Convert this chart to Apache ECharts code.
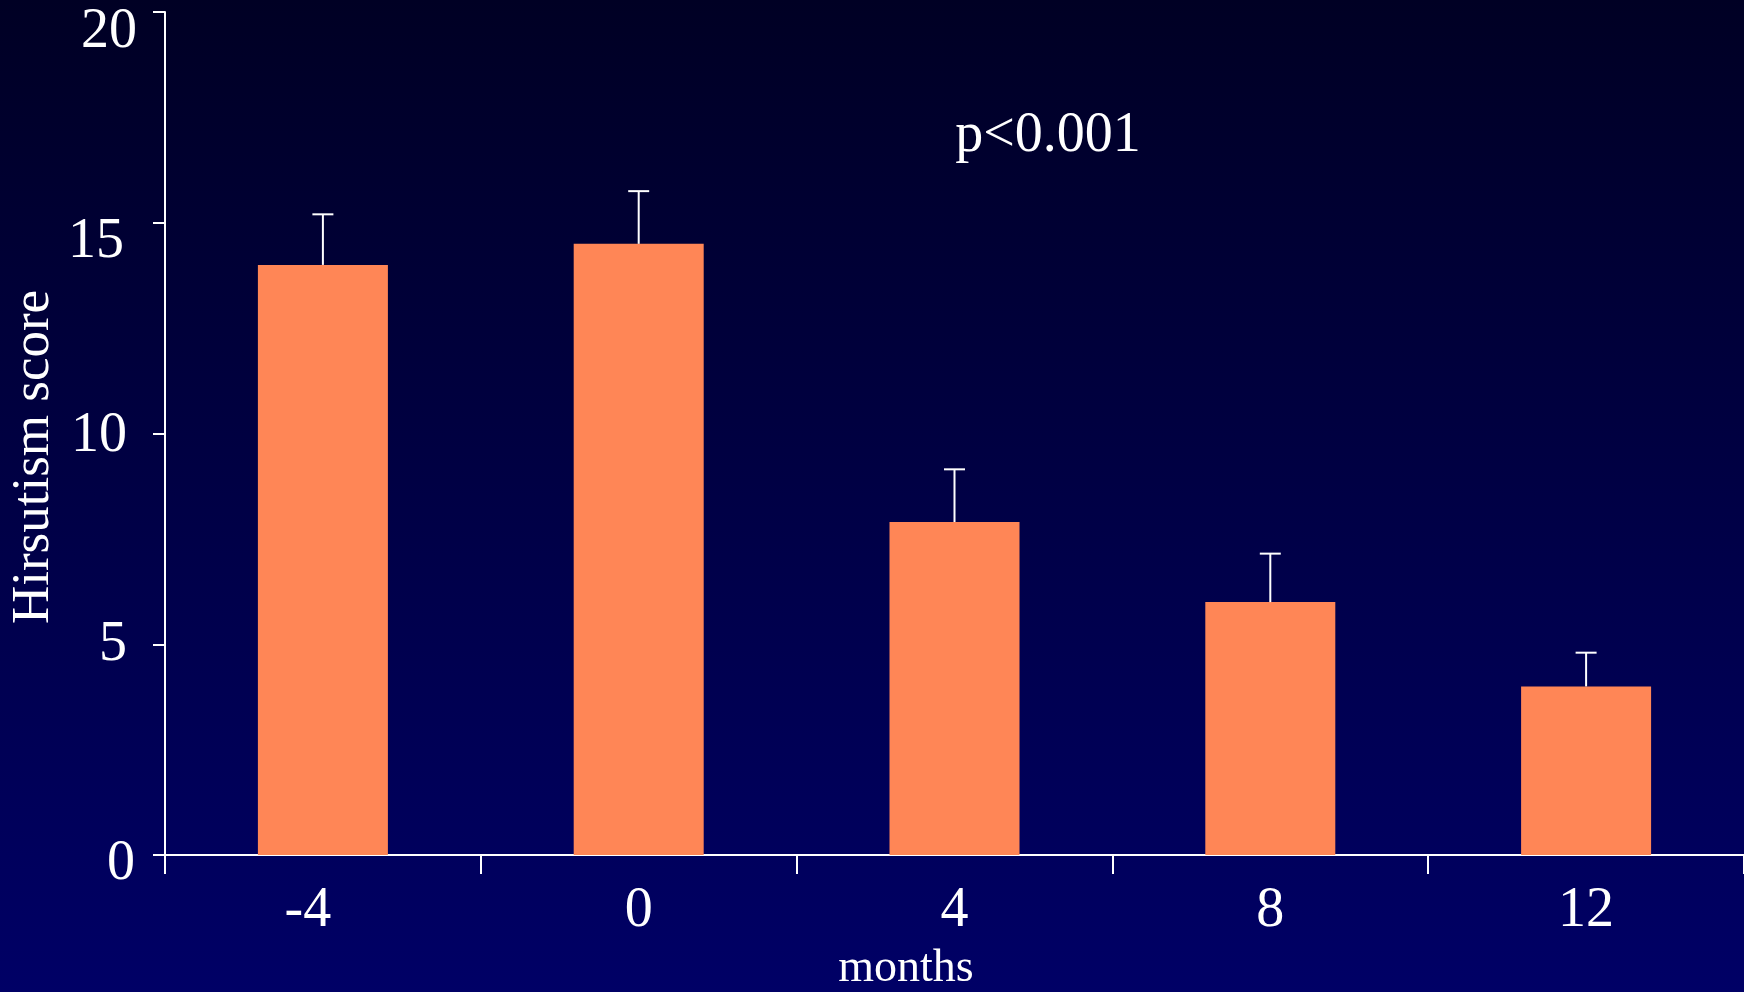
<!DOCTYPE html>
<html>
<head>
<meta charset="utf-8">
<script src="https://cdn.jsdelivr.net/npm/echarts@6/dist/echarts.min.js"></script>
<style>
html,body{margin:0;padding:0;background:#000040;}
#chart{width:1744px;height:992px;}
</style>
</head>
<body>
<div id="chart"></div>
<script>
const categories = ['-4', '0', '4', '8', '12'];
const meanValues = [14.0, 14.5, 7.9, 6.0, 4.0];
const errorValues = [1.2, 1.25, 1.25, 1.15, 0.8];
const yTicks = [0, 5, 10, 15, 20];
const xAxisTitle = 'months';
const yAxisTitle = 'Hirsutism score';
const annotation = 'p<0.001';

const FONT = '"Liberation Serif", "DejaVu Serif", serif';
const WHITE = '#ffffff';

// per-label nudges to follow the reference's placement
const yLabelPad = {0: [18, 2, 0, 0], 5: [2, 10, 0, 0], 10: [6, 10, 0, 0], 15: [40, 13, 0, 0], 20: [40, 0, 0, 0]};
const yRich = {};
yTicks.forEach(v => {
  yRich['v' + v] = {fontFamily: FONT, fontSize: 56, color: WHITE, padding: yLabelPad[v]};
});
const xRich = {
  neg: {fontFamily: FONT, fontSize: 56, color: WHITE, padding: [0, 30, 0, 0]},
  pos: {fontFamily: FONT, fontSize: 56, color: WHITE}
};

const chart = echarts.init(document.getElementById('chart'), null, {renderer: 'canvas'});
const option = {
  backgroundColor: {
    type: 'linear', x: 0, y: 0, x2: 0, y2: 1,
    colorStops: [{offset: 0, color: '#000024'}, {offset: 1, color: '#000066'}]
  },
  animation: false,
  grid: {left: 165, width: 1586, top: 12, bottom: 137, containLabel: false},
  xAxis: {
    type: 'category',
    data: categories,
    boundaryGap: true,
    axisLine: {show: true, lineStyle: {color: WHITE, width: 2}},
    axisTick: {show: true, alignWithLabel: false, inside: false, length: 19, lineStyle: {color: WHITE, width: 2}},
    axisLabel: {
      margin: 28,
      fontFamily: FONT, fontSize: 56, color: WHITE,
      formatter: v => (v.charAt(0) === '-' ? '{neg|' + v + '}' : '{pos|' + v + '}'),
      rich: xRich
    },
    splitLine: {show: false}
  },
  yAxis: {
    type: 'value',
    min: 0, max: 20, interval: 5,
    axisLine: {show: true, lineStyle: {color: WHITE, width: 2}},
    axisTick: {show: true, inside: false, length: 12, lineStyle: {color: WHITE, width: 2}},
    axisLabel: {
      margin: 28,
      fontFamily: FONT, fontSize: 56, color: WHITE,
      formatter: v => '{v' + v + '|' + v + '}',
      rich: yRich
    },
    splitLine: {show: false}
  },
  series: [
    {
      type: 'bar',
      data: meanValues,
      barWidth: 130,
      itemStyle: {color: '#FF8656'},
      z: 2
    },
    {
      type: 'custom',
      data: meanValues.map((m, i) => [i, m, m + errorValues[i]]),
      encode: {x: 0, y: [1, 2]},
      z: 3,
      renderItem: function (params, api) {
        const i = api.value(0);
        const base = api.coord([i, api.value(1)]);
        const top = api.coord([i, api.value(2)]);
        const half = 10.5;
        const style = {stroke: WHITE, lineWidth: 2};
        return {
          type: 'group',
          children: [
            {type: 'line', shape: {x1: base[0], y1: base[1], x2: top[0], y2: top[1]}, style: style},
            {type: 'line', shape: {x1: top[0] - half, y1: top[1], x2: top[0] + half, y2: top[1]}, style: style}
          ]
        };
      }
    }
  ],
  graphic: [
    {
      type: 'text', x: 1048, y: 136,
      style: {text: annotation, fontFamily: FONT, fontSize: 56, fill: WHITE, align: 'center', verticalAlign: 'middle'}
    },
    {
      type: 'text', x: 906, y: 969,
      style: {text: xAxisTitle, fontFamily: FONT, fontSize: 46, fill: WHITE, align: 'center', verticalAlign: 'middle'}
    },
    {
      type: 'text', x: 34, y: 457, rotation: Math.PI / 2,
      style: {text: yAxisTitle, fontFamily: FONT, fontSize: 53, fill: WHITE, align: 'center', verticalAlign: 'middle'}
    }
  ]
};
chart.setOption(option);
</script>
</body>
</html>
